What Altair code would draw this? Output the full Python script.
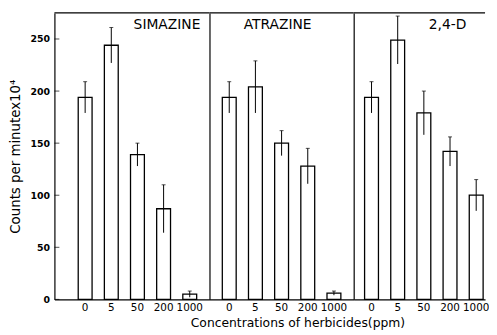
import altair as alt
import pandas as pd

concs = ["0", "5", "50", "200", "1000"]
herbicides = ["SIMAZINE", "ATRAZINE", "2,4-D"]
simazine_mean = [194, 244, 139, 87, 5]
simazine_err = [15, 17, 11, 23, 3]
atrazine_mean = [194, 204, 150, 128, 6]
atrazine_err = [15, 25, 12, 17, 2]
d24_mean = [194, 249, 179, 142, 100]
d24_err = [15, 23, 21, 14, 15]
y_ticks = [0, 50, 100, 150, 200, 250]

FONT = "DejaVu Sans"


def panel(name, means, errs, width, pad_outer, align, first, label_x):
    df = pd.DataFrame({
        "conc": concs,
        "mean": means,
        "lo": [m - e for m, e in zip(means, errs)],
        "hi": [m + e for m, e in zip(means, errs)],
    })
    xenc = alt.X(
        "conc:N", sort=concs, title=None,
        scale=alt.Scale(paddingInner=0.47, paddingOuter=pad_outer, align=align),
        axis=alt.Axis(labelAngle=0, ticks=False, domain=True, domainColor="black",
                      domainWidth=1.2, labelFontSize=10.5, labelFont=FONT,
                      labelColor="black", labelPadding=3),
    )
    if first:
        yaxis = alt.Axis(values=y_ticks, ticks=False, domain=True, domainColor="black",
                         domainWidth=1.2, grid=False, labelFontSize=9.5, labelFont=FONT,
                         labelColor="black", labelFontWeight="bold", labelPadding=5,
                         title="Counts per minutex10⁴", titleFont=FONT,
                         titleFontSize=13.5, titleFontWeight="normal", titleColor="black",
                         titlePadding=8)
    else:
        yaxis = alt.Axis(labels=False, ticks=False, domain=True, domainColor="black",
                         domainWidth=1.2, grid=False, title=None)
    yscale = alt.Scale(domain=[0, 275], nice=False)
    base = alt.Chart(df).encode(x=xenc)
    bars = base.mark_bar(fill="white", stroke="black", strokeWidth=1.3).encode(
        y=alt.Y("mean:Q", scale=yscale, axis=yaxis)
    )
    whisk = base.mark_rule(color="black", strokeWidth=1).encode(
        y=alt.Y("lo:Q"), y2="hi:Q"
    )
    cap = base.mark_tick(color="black", thickness=1, size=4).encode(y=alt.Y("hi:Q"))
    top = alt.Chart(pd.DataFrame({"a": [0]})).mark_rule(
        color="black", strokeWidth=1.3
    ).encode(y=alt.value(0))
    label = alt.Chart(pd.DataFrame({"t": [name]})).mark_text(
        font=FONT, fontSize=14, color="black", align="center", baseline="middle"
    ).encode(text="t:N", x=alt.value(label_x), y=alt.value(12))
    layers = [bars, whisk, cap, top, label]
    if first:
        tk = alt.Chart(pd.DataFrame({"v": y_ticks})).mark_tick(
            color="black", thickness=1, size=5
        ).encode(y=alt.Y("v:Q"), x=alt.value(2.5))
        layers.append(tk)
    return alt.layer(*layers).properties(width=width, height=290)


p1 = panel(herbicides[0], simazine_mean, simazine_err, 157, 0.70, 0.65, True, 114)
p2 = panel(herbicides[1], atrazine_mean, atrazine_err, 146, 0.49, 0.5, False, 69)
p3 = panel(herbicides[2], d24_mean, d24_err, 133, 0.245, 0.85, False, 95)

chart = alt.hconcat(p1, p2, p3, spacing=0, bounds="flush").properties(
    title=alt.TitleParams("Concentrations of  herbicides(ppm)", orient="bottom",
                          anchor="middle", font=FONT, fontSize=12.5,
                          fontWeight="normal", color="black", offset=4, dx=50),
    padding={"left": 0, "top": 2, "right": 0, "bottom": 0},
).configure_view(stroke=None)

chart.save("out.html", embed_options={"renderer": "svg", "actions": False})
